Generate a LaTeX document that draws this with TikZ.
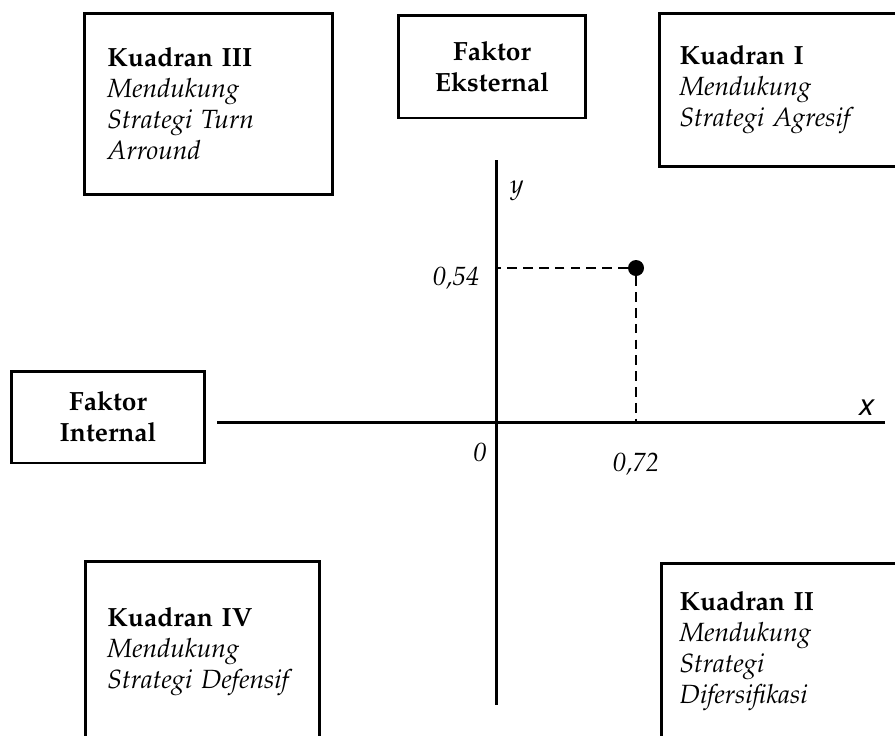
\documentclass[tikz,border=0pt]{standalone}
\usepackage[T1]{fontenc}
\usepackage{mathpazo}
\usepackage{helvet}
\usepackage{tikz}
\usetikzlibrary{positioning}

\tikzset{
  kotak/.style={draw, line width=1.7pt, anchor=north west, align=left, inner ysep=0pt, font=\fontsize{15}{17.6}\selectfont},
  faktor/.style={draw, line width=1.7pt, align=center, inner sep=0pt, font=\fontsize{15}{17.6}\selectfont\bfseries},
  sumbu/.style={line width=1.7pt},
  garis/.style={dashed, line width=0.9pt, dash pattern=on 5.5pt off 3.5pt},
  label/.style={font=\fontsize{15}{17.6}\selectfont\itshape, inner sep=0pt}
}

\begin{document}
\begin{tikzpicture}[x=0.02cm,y=-0.02cm]
\useasboundingbox (0,0) rectangle (895,735);
\clip (0,0) rectangle (895,735);
\node[kotak, inner xsep=0.46cm, text width=4.04cm, minimum height=3.62cm] (k3) at (83,12)
  {\textbf{Kuadran III}\\ \textit{Mendukung}\\ \textit{Strategi Turn}\\ \textit{Arround}};
\node[kotak, inner xsep=0.4cm, text width=4.14cm, minimum height=3.06cm] (k1) at (658,12)
  {\textbf{Kuadran I}\\ \textit{Mendukung}\\ \textit{Strategi Agresif}};
\node[kotak, inner xsep=0.44cm, text width=3.8cm, minimum height=3.6cm] (k4) at (84,560)
  {\textbf{Kuadran IV}\\ \textit{Mendukung}\\ \textit{Strategi Defensif}};
\node[kotak, inner xsep=0.36cm, text width=4.2cm, minimum height=3.52cm] (k2) at (660,562)
  {\textbf{Kuadran II}\\ \textit{Mendukung}\\ \textit{Strategi}\\ \textit{Difersifikasi}};
\node[faktor, minimum width=3.76cm, minimum height=2.06cm] (fe) at (492,66.5) {Faktor\\ Eksternal};
\node[faktor, minimum width=3.88cm, minimum height=1.84cm] (fi) at (108,417) {Faktor\\ Internal};
\coordinate (xl) at (217,422);
\coordinate (xr) at (885,422);
\coordinate (yt) at (496,160);
\coordinate (yb) at (496,705);
\draw[sumbu] (xl) -- (xr);
\draw[sumbu] (yt) -- (yb);
\node[circle, fill=black, inner sep=0pt, minimum size=0.32cm] (p) at (636,268) {};
\draw[garis] (p) -- (p -| yt);
\draw[garis] (p) -- (p |- xl);
\node[label] (ylab) at (517,191) {y};
\node[label] (ynilai) at (456,278) {0,54};
\node[label] (nol) at (480,452) {0};
\node[label] (xnilai) at (636,464) {0,72};
\node[inner sep=0pt, font=\fontsize{17}{20}\selectfont\sffamily\itshape] (xlab) at (865,408) {x};
\end{tikzpicture}
\end{document}
